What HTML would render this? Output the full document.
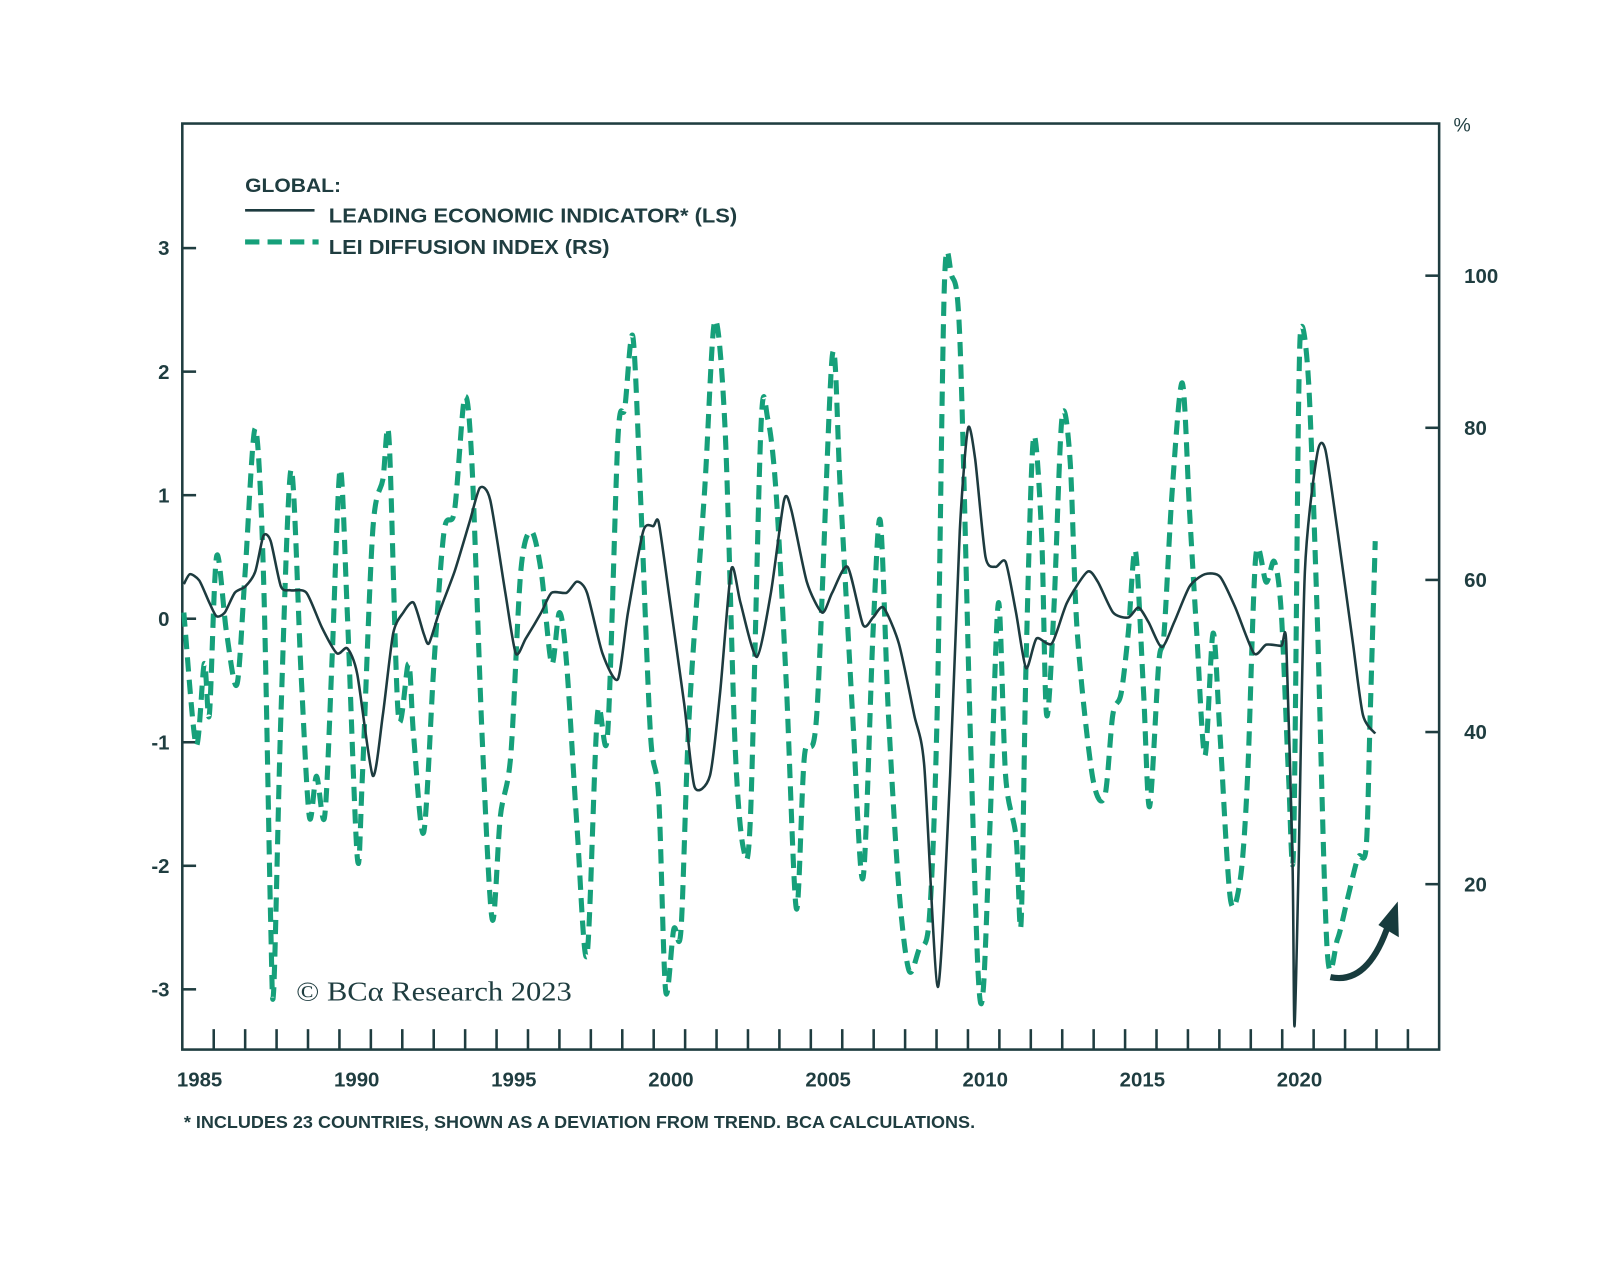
<!DOCTYPE html>
<html><head><meta charset="utf-8"><style>
html,body{margin:0;padding:0;background:#fff}
svg{display:block}
text{font-family:"Liberation Sans",sans-serif;fill:#1f3d40}
</style></head><body>
<svg id="chart" width="1600" height="1265" viewBox="0 0 1567 1239" xmlns="http://www.w3.org/2000/svg">
<rect x="178.5" y="121" width="1231" height="907" fill="none" stroke="#1f3d40" stroke-width="2.5"/>
<g id="axes"></g>
<g id="series"></g>
<g>
<text x="240" y="188" font-size="19" font-weight="bold" textLength="94" lengthAdjust="spacingAndGlyphs">GLOBAL:</text>
<line x1="240" y1="206" x2="308" y2="206" stroke="#1d3b3f" stroke-width="2.5"/>
<text x="322" y="218" font-size="20" font-weight="bold" textLength="400" lengthAdjust="spacingAndGlyphs">LEADING ECONOMIC INDICATOR* (LS)</text>
<line x1="240" y1="237" x2="312" y2="237" stroke="#16a07a" stroke-width="5" stroke-dasharray="14 8"/>
<text x="322" y="249" font-size="20" font-weight="bold" textLength="275" lengthAdjust="spacingAndGlyphs">LEI DIFFUSION INDEX (RS)</text>
</g>
<text x="1432" y="129" font-size="19" text-anchor="middle">%</text>
<text x="290" y="980" font-size="27" style="font-family:'Liberation Serif',serif" textLength="270" lengthAdjust="spacingAndGlyphs">© BCα Research 2023</text>
<text x="180" y="1105" font-size="17" font-weight="bold" textLength="775" lengthAdjust="spacingAndGlyphs">* INCLUDES 23 COUNTRIES, SHOWN AS A DEVIATION FROM TREND. BCA CALCULATIONS.</text>
<g>
<path d="M1303,957 Q1340,965 1360,905" fill="none" stroke="#173b3d" stroke-width="6"/>
<path d="M1369,883 L1370,918 L1350,906 Z" fill="#173b3d"/>
</g>
</svg>
<script>
const leiYears=[0.05,0.24,0.54,0.86,1.09,1.35,1.67,2.0,2.32,2.58,2.81,3.14,3.46,3.95,4.44,4.92,5.25,5.57,6.06,6.38,6.71,7.03,7.36,7.68,7.85,8.17,8.66,9.15,9.47,9.8,10.28,10.61,10.93,11.42,11.75,12.23,12.56,12.88,13.37,13.86,14.18,14.67,14.99,15.16,15.48,15.97,16.3,16.79,17.11,17.47,17.76,18.28,18.73,19.15,19.38,19.87,20.36,20.68,21.17,21.66,21.98,22.31,22.8,23.29,23.61,24.04,24.43,24.74,25.0,25.23,25.56,25.88,26.2,26.53,26.85,27.18,27.67,28.15,28.8,29.13,29.62,30.1,30.43,30.75,31.17,31.56,32.05,32.54,33.02,33.51,34.1,34.49,34.97,35.13,35.33,35.39,35.52,35.72,36.11,36.37,36.76,37.25,37.57,37.96];
const leiValues=[0.28,0.36,0.31,0.13,0.02,0.05,0.21,0.26,0.38,0.67,0.63,0.26,0.23,0.21,-0.07,-0.28,-0.24,-0.45,-1.27,-0.78,-0.12,0.05,0.13,-0.12,-0.2,0.05,0.38,0.79,1.06,0.96,0.21,-0.28,-0.16,0.05,0.21,0.21,0.3,0.21,-0.28,-0.49,0.05,0.71,0.75,0.78,0.21,-0.69,-1.36,-1.27,-0.61,0.4,0.13,-0.31,0.21,0.96,0.88,0.3,0.05,0.21,0.42,-0.05,0.01,0.09,-0.2,-0.78,-1.19,-2.98,-1.27,0.71,1.54,1.29,0.5,0.42,0.46,0.05,-0.4,-0.16,-0.2,0.13,0.38,0.3,0.05,0.01,0.09,-0.03,-0.23,-0.03,0.26,0.36,0.34,0.09,-0.28,-0.21,-0.22,-0.2,-2.02,-3.3,-2.02,0.38,1.33,1.37,0.71,-0.2,-0.78,-0.93];
const difYears=[0.05,0.44,0.70,0.86,1.09,1.41,1.74,2.0,2.32,2.58,2.81,2.91,3.14,3.46,3.78,4.04,4.27,4.53,4.76,5.02,5.25,5.57,5.73,6.06,6.38,6.58,6.87,7.2,7.36,7.68,8.01,8.33,8.66,8.98,9.21,9.54,9.86,10.12,10.45,10.77,11.1,11.42,11.75,12.0,12.23,12.56,12.88,13.21,13.53,13.86,14.08,14.34,14.6,14.9,15.16,15.38,15.64,15.87,16.13,16.62,16.94,17.27,17.59,17.85,18.08,18.41,18.63,18.89,19.22,19.54,19.8,20.19,20.68,20.94,21.33,21.66,21.98,22.21,22.47,22.8,23.12,23.44,23.77,24.02,24.25,24.48,24.74,25.06,25.32,25.49,25.71,25.97,26.2,26.53,26.69,26.85,27.08,27.34,27.5,27.73,27.99,28.25,28.48,28.96,29.35,29.61,29.87,30.1,30.33,30.59,30.78,31.07,31.24,31.5,31.82,32.05,32.28,32.54,32.8,33.02,33.35,33.67,33.9,34.16,34.49,34.75,34.97,35.2,35.36,35.52,35.62,35.85,36.11,36.43,36.76,37.08,37.41,37.67,37.8,37.96];
const difValues=[55.7,38.3,49.0,42.3,63.1,53.0,46.3,61.1,79.9,61.1,15.4,6.3,42.3,74.5,47.7,28.9,34.2,28.9,49.0,74.5,55.7,23.5,34.2,66.4,73.2,78.5,42.3,49.0,39.6,26.8,49.0,66.4,69.1,83.9,75.8,39.6,15.4,28.9,36.9,61.1,66.4,61.1,49.0,55.7,49.0,27.5,10.7,42.3,39.6,78.5,82.6,91.9,69.1,39.6,31.5,6.0,14.1,14.1,42.3,71.8,94.0,79.9,38.3,24.8,28.9,79.9,81.2,71.8,46.3,16.8,36.9,42.3,89.3,71.8,42.3,20.8,53.0,67.8,42.3,19.5,8.7,11.4,15.4,42.3,98.7,100.0,91.9,42.3,8.7,6.3,28.9,57.0,34.2,26.2,14.8,49.0,78.5,66.4,42.3,55.7,81.2,75.8,53.0,34.2,31.5,42.3,45.0,53.0,63.8,45.0,30.2,49.0,53.0,71.8,85.9,69.1,53.0,36.9,53.0,39.6,18.1,20.8,34.2,63.1,59.7,62.4,55.7,34.2,24.8,82.6,93.3,85.2,55.7,11.4,12.8,18.1,23.5,24.8,42.3,65.1];
const leftTicks=[3,2,1,0,-1,-2,-3];
const rightTicks=[100,80,60,40,20];
const yearLabels=[1985,1990,1995,2000,2005,2010,2015,2020];
const baseYear=1985;

const NS='http://www.w3.org/2000/svg';
const X=t=>178.5+t*30.78;
const YL=v=>606-121*v;
const YR=p=>568-7.45*(p-60);
function mk(tag,attrs,parent){const e=document.createElementNS(NS,tag);for(const k in attrs)e.setAttribute(k,attrs[k]);parent.appendChild(e);return e;}
function smooth(pts,k){
  let d='M'+pts[0][0].toFixed(1)+','+pts[0][1].toFixed(1);
  for(let i=0;i<pts.length-1;i++){
    const p0=pts[Math.max(0,i-1)],p1=pts[i],p2=pts[i+1],p3=pts[Math.min(pts.length-1,i+2)];
    const c1=[p1[0]+(p2[0]-p0[0])*k,p1[1]+(p2[1]-p0[1])*k];
    const c2=[p2[0]-(p3[0]-p1[0])*k,p2[1]-(p3[1]-p1[1])*k];
    d+=' C'+c1[0].toFixed(1)+','+c1[1].toFixed(1)+' '+c2[0].toFixed(1)+','+c2[1].toFixed(1)+' '+p2[0].toFixed(1)+','+p2[1].toFixed(1);
  }
  return d;
}
const axes=document.getElementById('axes');
const series=document.getElementById('series');
leftTicks.forEach(v=>{
  const l=mk('line',{x1:178.5,x2:192,y1:YL(v),y2:YL(v),stroke:'#1f3d40','stroke-width':2.5},axes);
  
  
  const t=mk('text',{x:166,y:YL(v)+7,'font-size':20,'font-weight':'bold','text-anchor':'end'},axes);
  t.textContent=String(v);
  
  
});
rightTicks.forEach(p=>{
  const l=mk('line',{x1:1396,x2:1409.5,y1:YR(p),y2:YR(p),stroke:'#1f3d40','stroke-width':2.5},axes);
  
  
  const t=mk('text',{x:1434,y:YR(p)+7,'font-size':20,'font-weight':'bold'},axes);
  t.textContent=String(p);
  
  
});
for(let y=1;y<=39;y++){
  const l=mk('line',{x1:X(y),x2:X(y),y1:1008,y2:1028,stroke:'#1f3d40','stroke-width':2.5},axes);
  
  
}
yearLabels.forEach(yr=>{
  const t=mk('text',{x:X(yr-baseYear+0.55),y:1064,'font-size':20,'font-weight':'bold','text-anchor':'middle'},axes);
  t.textContent=String(yr);
  
  
});
const dPts=difYears.map((t,i)=>[X(t),YR(difValues[i])]);
const dif=mk('path',{d:smooth(dPts,0.15),fill:'none',stroke:'#16a07a','stroke-width':5,'stroke-dasharray':'14 8'},series);


const lPts=leiYears.map((t,i)=>[X(t),YL(leiValues[i])]);
const lei=mk('path',{d:smooth(lPts,0.12),fill:'none',stroke:'#1d3b3f','stroke-width':2.5,'stroke-linejoin':'round'},series);


</script>
</body></html>
